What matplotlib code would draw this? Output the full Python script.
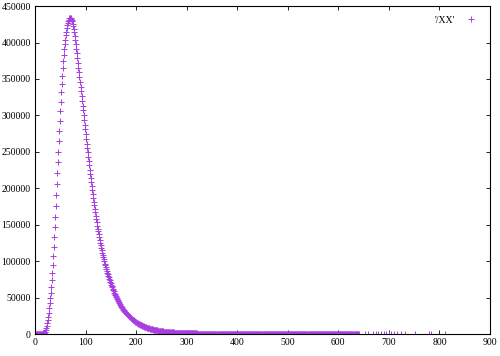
import numpy as np
import matplotlib
matplotlib.use("Agg")
import matplotlib.pyplot as plt

# histogram counts, one value per integer bin
counts_0_99 = [
    0, 10, 30, 60, 90, 130, 180, 240, 300, 350,
    400, 500, 620, 760, 920, 1100, 1300, 1550, 1850, 2500,
    3600, 5600, 8200, 11400, 15200, 19600, 24300, 29600, 35600, 42300,
    49300, 57000, 65200, 74000, 84000, 95000, 107000, 119700, 133700, 147000,
    161000, 175800, 191000, 205500, 220600, 235600, 250500, 264800, 279000, 293000,
    306000, 319000, 331500, 343500, 354500, 364500, 374000, 382500, 390500, 397500,
    404000, 410000, 415000, 419500, 423500, 427000, 429500, 431500, 433000, 433500,
    433500, 433000, 432500, 431000, 429000, 426000, 422500, 418500, 414000, 409000,
    403500, 397500, 391500, 385000, 378500, 372000, 365500, 359000, 352500, 346000,
    339500, 333000, 326500, 320000, 313500, 307000, 300500, 294000, 287500, 281000,
]
counts_100_199 = [
    274500, 268000, 261500, 255500, 249500, 243500, 237500, 231500, 225500, 219500,
    214000, 208500, 203000, 197500, 192000, 187000, 182000, 177000, 172000, 167000,
    162500, 158000, 153500, 149000, 145000, 141000, 137000, 133000, 129000, 125500,
    122000, 118500, 115000, 112000, 109000, 106000, 103000, 100000, 97000, 94500,
    92000, 89500, 87000, 84500, 82000, 80000, 78000, 76000, 74000, 72000,
    70000, 68000, 66000, 64200, 62400, 60600, 58900, 57200, 55600, 54000,
    52500, 51000, 49500, 48000, 46600, 45200, 43900, 42600, 41400, 40200,
    39000, 37900, 36800, 35700, 34700, 33700, 32700, 31800, 30900, 30000,
    29100, 28300, 27500, 26700, 25900, 25200, 24500, 23800, 23100, 22500,
    21800, 21200, 20600, 20000, 19500, 18900, 18400, 17900, 17400, 16900,
]
counts_200_299 = [
    16400, 16000, 15500, 15100, 14700, 14300, 13900, 13500, 13100, 12800,
    12400, 12100, 11700, 11400, 11100, 10800, 10500, 10200, 9900, 9650,
    9400, 9150, 8900, 8650, 8400, 8200, 8000, 7800, 7600, 7400,
    7200, 7000, 6800, 6650, 6500, 6300, 6150, 6000, 5850, 5700,
    5550, 5400, 5250, 5100, 4980, 4850, 4730, 4610, 4500, 4390,
    4280, 4180, 4080, 3980, 3890, 3800, 3710, 3620, 3540, 3460,
    3380, 3300, 3230, 3160, 3090, 3020, 2950, 2890, 2830, 2770,
    2710, 2650, 2600, 2540, 2490, 2440, 2390, 2340, 2290, 2250,
    2200, 2160, 2120, 2080, 2040, 2000, 1960, 1920, 1890, 1850,
    1820, 1790, 1760, 1730, 1700, 1670, 1640, 1610, 1580, 1560,
]
counts_300_399 = [
    1530, 1500, 1480, 1450, 1430, 1400, 1380, 1360, 1330, 1310,
    1290, 1270, 1250, 1230, 1210, 1190, 1170, 1150, 1130, 1110,
    1090, 1070, 1050, 1040, 1020, 1000, 990, 970, 950, 940,
    920, 910, 890, 880, 860, 850, 840, 820, 810, 800,
    790, 770, 760, 750, 740, 730, 720, 700, 690, 680,
    670, 660, 650, 640, 630, 620, 610, 600, 590, 580,
    570, 560, 555, 545, 535, 525, 520, 510, 500, 495,
    485, 480, 470, 465, 455, 450, 440, 435, 430, 420,
    415, 410, 400, 395, 390, 385, 380, 370, 365, 360,
    355, 350, 345, 340, 335, 330, 325, 320, 315, 310,
]
counts_400_499 = [
    305, 300, 296, 292, 288, 284, 280, 276, 272, 268,
    264, 260, 256, 252, 248, 244, 240, 237, 234, 231,
    228, 225, 222, 219, 216, 213, 210, 207, 204, 201,
    198, 195, 192, 190, 187, 185, 182, 180, 177, 175,
    172, 170, 168, 165, 163, 161, 158, 156, 154, 152,
    150, 148, 146, 144, 142, 140, 138, 136, 134, 132,
    130, 128, 127, 125, 123, 121, 120, 118, 116, 115,
    113, 112, 110, 108, 107, 105, 104, 102, 101, 99,
    98, 97, 95, 94, 93, 91, 90, 89, 88, 86,
    85, 84, 83, 82, 81, 80, 79, 78, 77, 76,
]
counts_500_640 = [
    75, 74, 72, 71, 70, 69, 68, 67, 66, 65,
    64, 63, 62, 61, 60, 59, 58, 57, 56, 55,
    54, 53, 52, 51, 51, 50, 49, 48, 47, 46,
    46, 45, 44, 43, 43, 42, 41, 40, 40, 39,
    38, 38, 37, 36, 36, 35, 34, 34, 33, 33,
    32, 31, 31, 30, 30, 29, 29, 28, 28, 27,
    27, 26, 26, 25, 25, 24, 24, 23, 23, 22,
    22, 22, 21, 21, 20, 20, 19, 19, 19, 18,
    18, 18, 17, 17, 16, 16, 16, 15, 15, 15,
    14, 14, 14, 13, 13, 13, 12, 12, 12, 11,
    11, 11, 11, 10, 10, 10, 9, 9, 9, 9,
    8, 8, 8, 8, 7, 7, 7, 7, 6, 6,
    6, 6, 6, 5, 5, 5, 5, 5, 4, 4,
    4, 4, 4, 3, 3, 3, 3, 3, 3, 2, 2,
]
# isolated bins far out in the tail
sparse_x = [653, 659, 669, 674, 679, 685, 690, 695, 700, 705, 711, 716, 723, 731, 751, 780, 783, 811]
sparse_y = [2, 2, 1, 2, 1, 1, 2, 1, 1, 1, 1, 1, 1, 1, 1, 1, 1, 1]

counts = (counts_0_99 + counts_100_199 + counts_200_299 + counts_300_399
          + counts_400_499 + counts_500_640)
x = list(np.arange(len(counts))) + sparse_x
y = counts + sparse_y

plt.rcParams["font.family"] = ["Liberation Serif", "DejaVu Serif"]

fig = plt.figure(figsize=(5.0, 3.56), dpi=100)
ax = fig.add_axes([0.07, 0.061, 0.91, 0.922])

ax.plot(x, y, linestyle="none", marker="+", markersize=4.4, markeredgewidth=0.7,
        color="#a83ee0", label="'/XX'")

ax.set_xlim(0, 900)
ax.set_ylim(0, 450000)
ax.set_xticks(np.arange(0, 901, 100))
ax.set_yticks(np.arange(0, 450001, 50000))
ax.tick_params(direction="in", length=3, width=0.6, labelsize=7,
               top=True, right=True, pad=3)
for s in ax.spines.values():
    s.set_linewidth(0.8)

ax.legend(loc="upper right", markerfirst=False, frameon=False, fontsize=7,
          handlelength=2.0, handletextpad=0.6, borderaxespad=0.6)

fig.savefig("out.png", dpi=100)
